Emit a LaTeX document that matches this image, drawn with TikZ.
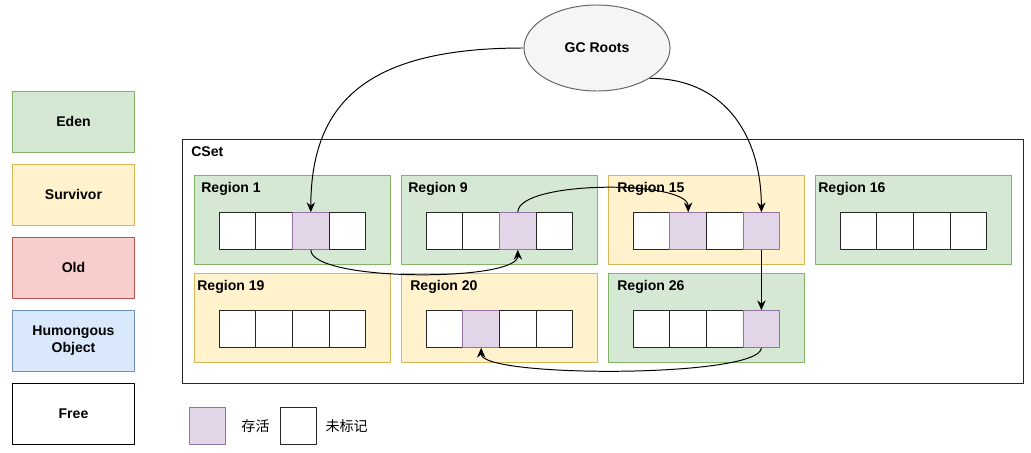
\documentclass[tikz,border=0pt]{standalone}
\usepackage{fontspec}
\setmainfont{Liberation Sans}
\newfontfamily\cjk{Noto Sans CJK SC}
\usetikzlibrary{arrows.meta,shapes.geometric}
\definecolor{edenF}{HTML}{D5E8D4}
\definecolor{edenD}{HTML}{82B366}
\definecolor{survF}{HTML}{FFF2CC}
\definecolor{survD}{HTML}{D6B656}
\definecolor{oldF}{HTML}{F8CECC}
\definecolor{oldD}{HTML}{B85450}
\definecolor{humF}{HTML}{DAE8FC}
\definecolor{humD}{HTML}{6C8EBF}
\definecolor{liveF}{HTML}{E1D5E7}
\definecolor{liveD}{HTML}{9673A6}
\definecolor{gcF}{HTML}{F5F5F5}
\definecolor{gcD}{HTML}{666666}
\begin{document}
\begin{tikzpicture}[x=0.025cm,y=-0.025cm,font=\fontsize{10}{12.5}\selectfont\bfseries,line join=round,>={Stealth[length=7pt,width=6pt]},
	box/.style={draw,line width=0.7pt,minimum width=3.05cm,minimum height=1.525cm,align=center},
	region/.style={draw,line width=0.7pt,minimum width=4.875cm,minimum height=2.2cm,inner sep=0},
	eden/.style={fill=edenF,draw=edenD},
	surv/.style={fill=survF,draw=survD},
	old/.style={fill=oldF,draw=oldD},
	hum/.style={fill=humF,draw=humD},
	cell/.style={draw=black!85,fill=white,line width=0.7pt,minimum size=0.915cm,inner sep=0},
	livecell/.style={cell,fill=liveF,draw=liveD},
	% các ô còn sống
	live1-3/.style=livecell,live9-3/.style=livecell,live15-2/.style=livecell,
	live15-4/.style=livecell,live20-2/.style=livecell,live26-4/.style=livecell,
	lbl/.style={anchor=west,inner sep=0},
	link/.style={->,line width=0.7pt}]
	\useasboundingbox (0,0) rectangle (1031,453);
	% chú thích bên trái
	\path 
	(73.5,121.5) node[box,eden] (eden) {Eden}
	(73.5,194.5) node[box,surv] (surv) {Survivor}
	(73.5,267.5) node[box,old] (old) {Old}
	(73.5,340.5) node[box,hum] (hum) {Humongous\\Object}
	(73.5,413.5) node[box,draw=black,fill=white] (free) {Free};
	\node[draw=black!85,line width=0.7pt,minimum width=21cm,minimum height=6.075cm,inner sep=0] (cset) at (603,261.5) {};
	\node[lbl] (csetlbl) at (191,152) {CSet};
	\foreach \n/\cx/\cy/\st/\dx in {1/292.5/220/eden/6,9/499.5/220/eden/6,15/706.5/220/surv/8,16/913.5/220/eden/2,
		19/292.5/318/surv/2,20/499.5/318/surv/8,26/706.5/318/eden/8}{
		\node[region,\st] (reg\n) at (\cx,\cy) {};
		\node[lbl] (lab\n) at (\cx-97.5+\dx,\cy-31) {Region \n};
		\foreach \k in {1,...,4}
		\node[cell,live\n-\k/.try] (c\n-\k) at (\cx-91.5+36.6*\k,\cy+11) {};
	}
	\node[ellipse,draw=gcD,fill=gcF,line width=0.7pt,minimum width=3.65cm,minimum height=2.15cm] (gc) at (597,48) {GC Roots};
	\draw[link] (gc.west) .. controls (370,48) and (311,100) .. (c1-3.north);
	\draw[link] (gc.-30) .. controls (720,78) and (761,130) .. (c15-4.north);
	\draw[link] (c1-3.south) .. controls (311,282) and (518,282) .. (c9-3.south);
	\draw[link] (c9-3.north) .. controls (518,180) and (688,180) .. (c15-2.north);
	\draw[link] (c15-4.south) -- (c26-4.north);
	\draw[link] (c26-4.south) .. controls (761,378) and (481,378) .. (c20-2.south);
	% chú thích bên dưới
	\node[livecell] (keylive) at (207.5,426) {};
	\node[font=\cjk\fontsize{10}{12}\selectfont] (txtlive) at (255.5,426) {存活};
	\node[cell] (keyfree) at (298.3,426) {};
	\node[font=\cjk\fontsize{10}{12}\selectfont] (txtfree) at (346.7,426) {未标记};
\end{tikzpicture}
\end{document}
